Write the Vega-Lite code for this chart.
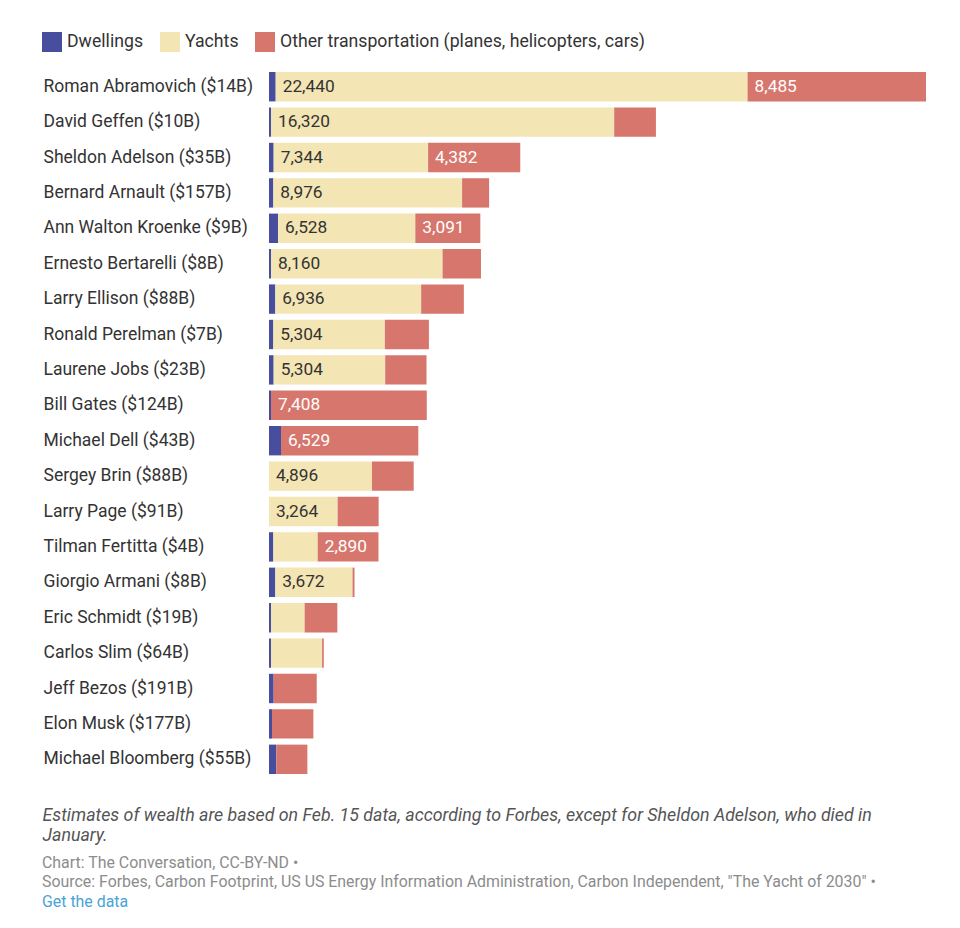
{
  "$schema": "https://vega.github.io/schema/vega-lite/v6.json",
  "autosize": "none",
  "width": 657,
  "height": {"step": 35.4},
  "padding": {"left": 269, "top": 69, "right": 34, "bottom": 151},
  "background": "white",
  "config": {
    "font": "Roboto",
    "view": {"stroke": null},
    "legend": {"symbolStrokeWidth": 0}
  },
  "title": {
    "text": ["Chart: The Conversation, CC-BY-ND •", "Source: Forbes, Carbon Footprint, US US Energy Information Administration, Carbon Independent, \"The Yacht of 2030\" •"],
    "subtitle": "Get the data",
    "orient": "bottom",
    "anchor": "start",
    "frame": "group",
    "dx": -227,
    "offset": 11,
    "font": "Roboto",
    "fontSize": 15.9,
    "fontWeight": "normal",
    "color": "#8c8c8c",
    "lineHeight": 19,
    "subtitleFont": "Roboto",
    "subtitleFontSize": 15.9,
    "subtitleColor": "#4aa3d6",
    "subtitlePadding": 4
  },
  "data": {
    "values": [
      {"name": "Roman Abramovich ($14B)", "Dwellings": 318, "Yachts": 22440, "Other": 8485},
      {"name": "David Geffen ($10B)", "Dwellings": 95, "Yachts": 16320, "Other": 1985},
      {"name": "Sheldon Adelson ($35B)", "Dwellings": 222, "Yachts": 7344, "Other": 4382},
      {"name": "Bernard Arnault ($157B)", "Dwellings": 206, "Yachts": 8976, "Other": 1286},
      {"name": "Ann Walton Kroenke ($9B)", "Dwellings": 430, "Yachts": 6528, "Other": 3091},
      {"name": "Ernesto Bertarelli ($8B)", "Dwellings": 95, "Yachts": 8160, "Other": 1825},
      {"name": "Larry Ellison ($88B)", "Dwellings": 300, "Yachts": 6936, "Other": 2030},
      {"name": "Ronald Perelman ($7B)", "Dwellings": 206, "Yachts": 5304, "Other": 2095},
      {"name": "Laurene Jobs ($23B)", "Dwellings": 222, "Yachts": 5304, "Other": 1965},
      {"name": "Bill Gates ($124B)", "Dwellings": 95, "Yachts": 0, "Other": 7408},
      {"name": "Michael Dell ($43B)", "Dwellings": 571, "Yachts": 0, "Other": 6529},
      {"name": "Sergey Brin ($88B)", "Dwellings": 0, "Yachts": 4896, "Other": 1985},
      {"name": "Larry Page ($91B)", "Dwellings": 0, "Yachts": 3264, "Other": 1950},
      {"name": "Tilman Fertitta ($4B)", "Dwellings": 206, "Yachts": 2110, "Other": 2890},
      {"name": "Giorgio Armani ($8B)", "Dwellings": 300, "Yachts": 3672, "Other": 95},
      {"name": "Eric Schmidt ($19B)", "Dwellings": 95, "Yachts": 1600, "Other": 1555},
      {"name": "Carlos Slim ($64B)", "Dwellings": 95, "Yachts": 2430, "Other": 80},
      {"name": "Jeff Bezos ($191B)", "Dwellings": 222, "Yachts": 0, "Other": 2048},
      {"name": "Elon Musk ($177B)", "Dwellings": 143, "Yachts": 0, "Other": 1967},
      {"name": "Michael Bloomberg ($55B)", "Dwellings": 350, "Yachts": 0, "Other": 1475}
    ]
  },
  "transform": [
    {"fold": ["Dwellings", "Yachts", "Other"], "as": ["category", "value"]},
    {"stack": "value", "groupby": ["name"], "as": ["x0", "x1"]}
  ],
  "encoding": {
    "y": {
      "field": "name",
      "type": "nominal",
      "sort": null,
      "scale": {"paddingInner": 0.17, "paddingOuter": 0.085},
      "axis": {
        "title": null,
        "domain": false,
        "ticks": false,
        "labelAlign": "left",
        "labelPadding": 226,
        "labelFontSize": 17.5,
        "labelColor": "#333333",
        "labelFont": "Roboto",
        "labelLimit": 300
      }
    },
    "x": {
      "field": "x0",
      "type": "quantitative",
      "scale": {"domain": [0, 31243], "nice": false},
      "axis": {
        "title": ["Estimates of wealth are based on Feb. 15 data, according to Forbes, except for Sheldon Adelson, who died in", "January."],
        "titleFont": "Roboto",
        "titleFontSize": 17.8,
        "titleFontStyle": "italic",
        "titleFontWeight": "normal",
        "titleColor": "#555555",
        "titleAlign": "left",
        "titleBaseline": "alphabetic",
        "titleLineHeight": 20,
        "titleX": -227,
        "titleY": 43,
        "titleLimit": 1000,
        "labels": false,
        "ticks": false,
        "domain": false,
        "grid": false
      }
    }
  },
  "layer": [
    {
      "mark": {"type": "bar"},
      "encoding": {
        "x2": {"field": "x1"},
        "color": {
          "field": "category",
          "type": "nominal",
          "scale": {"domain": ["Dwellings", "Yachts", "Other"], "range": ["#474e9d", "#f4e5b4", "#d7766c"]},
          "legend": {
            "title": null,
            "orient": "none",
            "direction": "horizontal",
            "legendX": -227,
            "legendY": -37,
            "padding": 0,
            "symbolType": "square",
            "symbolSize": 400,
            "symbolOpacity": 1,
            "symbolStrokeWidth": 0,
            "labelFontSize": 17.7,
            "labelFont": "Roboto",
            "labelColor": "#333333",
            "labelOffset": 5,
            "columnPadding": 16,
            "labelLimit": 500,
            "labelExpr": "datum.label === 'Other' ? 'Other transportation (planes, helicopters, cars)' : datum.label"
          }
        }
      }
    },
    {
      "transform": [{"filter": "datum.value >= 2500"}],
      "mark": {"type": "text", "align": "left", "baseline": "middle", "dx": 7, "fontSize": 17.3, "font": "Roboto"},
      "encoding": {
        "text": {"field": "value", "type": "quantitative", "format": ",d"},
        "color": {"condition": {"test": "datum.category === 'Yachts'", "value": "#333333"}, "value": "#ffffff"}
      }
    }
  ]
}
